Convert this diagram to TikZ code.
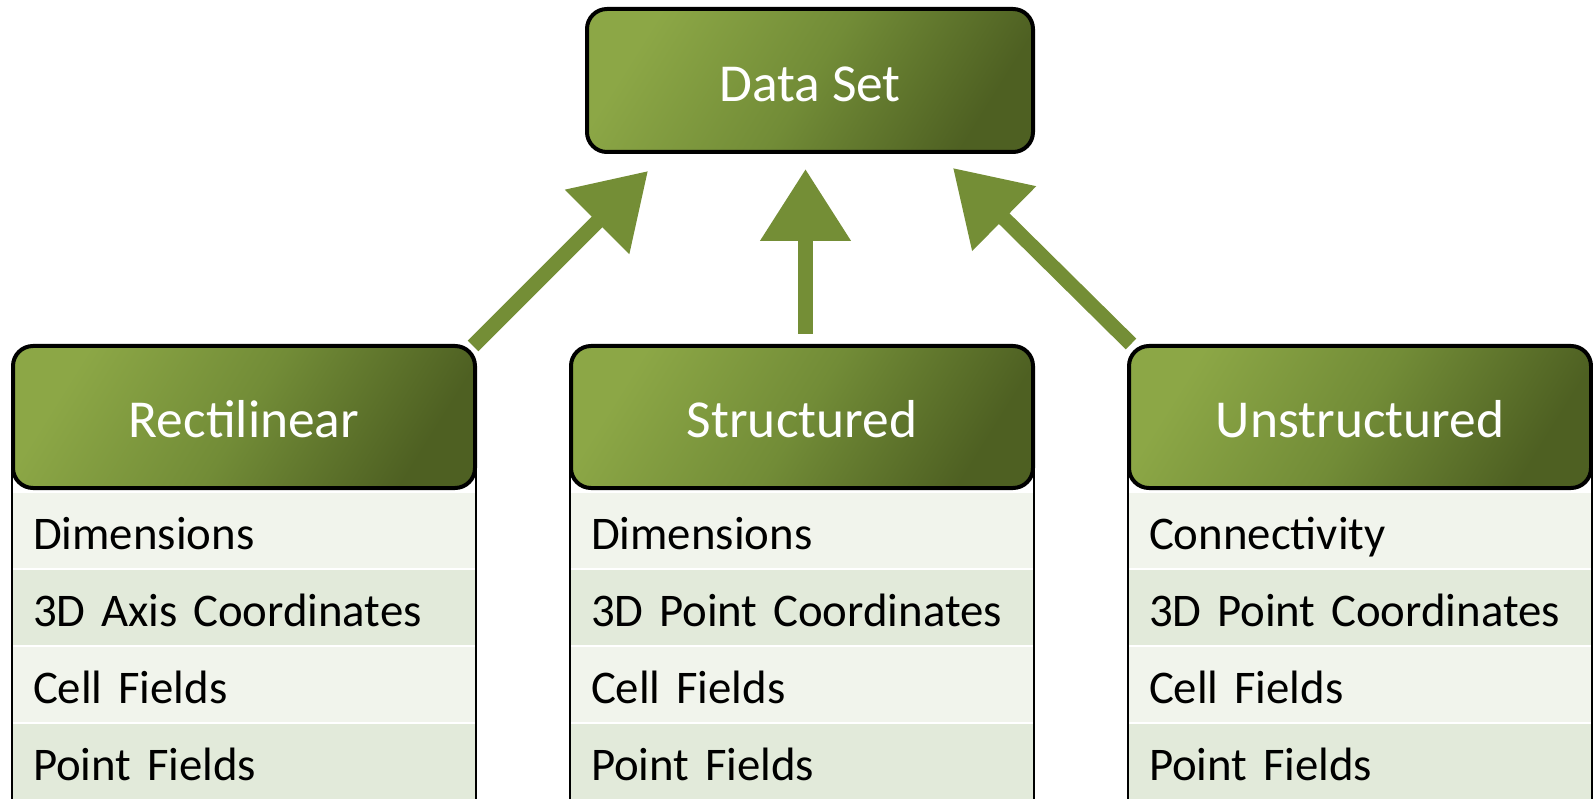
\documentclass[tikz,border=0pt]{standalone}
\usepackage{fontspec}
\setmainfont{Carlito}
\usetikzlibrary{arrows.meta,calc,positioning}
\definecolor{hdlight}{RGB}{140,167,70}
\definecolor{hdmid}{RGB}{114,140,55}
\definecolor{hddark}{RGB}{78,96,34}
\definecolor{rowodd}{RGB}{241,244,236}
\definecolor{roweven}{RGB}{226,234,218}
\definecolor{arrowgreen}{RGB}{116,142,54}
\pgfdeclarelayer{background}
\pgfsetlayers{background,main}
\begin{document}
\begin{tikzpicture}[x=1pt,y=-1pt,
  header/.style={draw=black, line width=4pt, rounded corners=20pt,
    minimum width=462pt, minimum height=142pt, inner sep=0pt, outer sep=0pt,
    top color=hdlight, bottom color=hddark, middle color=hdmid, shading angle=58,
    text=white, font=\fontsize{53.4}{60}\selectfont,
    text height=42pt, text depth=0pt},
  tabrow/.style={minimum width=462pt, minimum height=75pt,
    inner xsep=20pt, inner ysep=0pt, outer sep=0pt, text width=422pt,
    align=left, font=\fontsize{46.8}{52}\selectfont,
    text height=37pt, text depth=0pt},
  oddrow/.style={tabrow, fill=rowodd},
  evenrow/.style={tabrow, fill=roweven},
  sideline/.style={draw=black, line width=2pt},
  arrowline/.style={draw=arrowgreen, line width=15pt,
    -{Triangle[length=72pt,width=87pt]}}]
\useasboundingbox (0,0) rectangle (1593,799);

% top class
\node[header, minimum width=446pt, minimum height=143pt] (ds) at (810,80.5) {Data Set};

% the three subclasses
\node[header] (rect) at (244,417) {Rectilinear};
\node[header] (str) at (802,417) {Structured};
\node[header] (uns) at (1360,417) {Unstructured};

\begin{pgfonlayer}{background}
  % member lists
  \node[oddrow, below=5pt of rect] (rect1) {Dimensions};
  \node[evenrow, below=2pt of rect1] (rect2) {3D Axis Coordinates};
  \node[oddrow, below=2pt of rect2] (rect3) {Cell Fields};
  \node[evenrow, below=2pt of rect3] (rect4) {Point Fields};

  \node[oddrow, below=5pt of str] (str1) {Dimensions};
  \node[evenrow, below=2pt of str1] (str2) {3D Point Coordinates};
  \node[oddrow, below=2pt of str2] (str3) {Cell Fields};
  \node[evenrow, below=2pt of str3] (str4) {Point Fields};

  \node[oddrow, below=5pt of uns] (uns1) {Connectivity};
  \node[evenrow, below=2pt of uns1] (uns2) {3D Point Coordinates};
  \node[oddrow, below=2pt of uns2] (uns3) {Cell Fields};
  \node[evenrow, below=2pt of uns3] (uns4) {Point Fields};

  % side borders of the lists
  \foreach \c in {rect,str,uns}{
    \draw[sideline] ($(\c.south west)+(-1,-18)$) -- ($(\c4.south west)+(-1,10)$);
    \draw[sideline] ($(\c.south east)+(1,-18)$) -- ($(\c4.south east)+(1,10)$);
  }
\end{pgfonlayer}

% inheritance arrows
\coordinate (tipL) at ($(ds.south west)+(61,19)$);
\coordinate (tipM) at ($(ds.south)+(-4.5,17)$);
\coordinate (tipR) at ($(ds.south east)+(-80,16)$);
\coordinate (tailL) at ($(rect.north east)+(-2,0)$);
\coordinate (tailM) at ($(str.north)+(3.5,-12)$);
\coordinate (tailR) at ($(uns.north west)+(2,-2)$);
\draw[arrowline] (tailL) -- (tipL);
\draw[arrowline] (tailM) -- (tipM);
\draw[arrowline] (tailR) -- (tipR);
\end{tikzpicture}
\end{document}
